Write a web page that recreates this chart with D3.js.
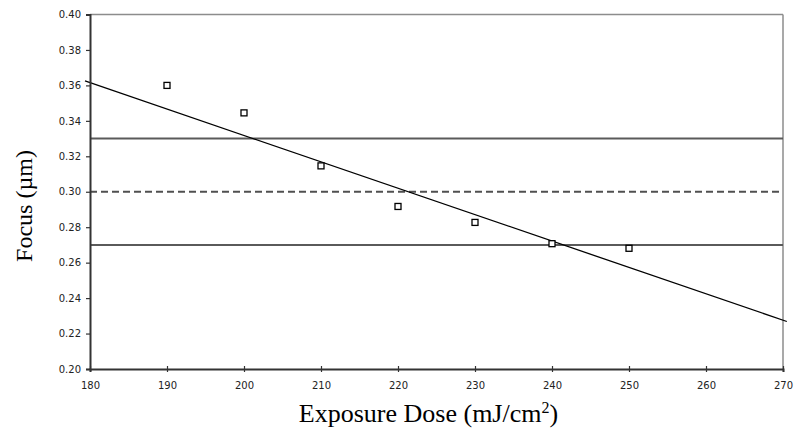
<!DOCTYPE html>
<html>
<head>
<meta charset="utf-8">
<script src="https://cdn.jsdelivr.net/npm/d3@7"></script>
<style>
  html, body { margin: 0; padding: 0; background: #fff; }
  svg { display: block; }
</style>
</head>
<body>
<svg id="chart" width="795" height="428"></svg>
<script>
// Measured focus at each exposure dose
const doses = [190, 200, 210, 220, 230, 240, 250];
const focus = [0.360, 0.3445, 0.3146, 0.2917, 0.2827, 0.2707, 0.2681];

// Linear trendline end points (dose, focus)
const trendDose = [179.35, 270.5];
const trendFocus = [0.3625, 0.2268];

// Target focus and its tolerance band
const targetFocus = 0.30;
const bandFocus = [0.27, 0.33];

// Axis ticks
const xTicks = [180, 190, 200, 210, 220, 230, 240, 250, 260, 270];
const yTicks = [0.20, 0.22, 0.24, 0.26, 0.28, 0.30, 0.32, 0.34, 0.36, 0.38, 0.40];

const svg = d3.select("#chart");
const plot = { left: 90, right: 783, top: 14.5, bottom: 369 };

const x = d3.scaleLinear().domain([180, 270]).range([plot.left, plot.right]);
const y = d3.scaleLinear().domain([0.20, 0.40]).range([plot.bottom, plot.top]);

// Plot frame: light top/right edges
svg.append("line").attr("x1", plot.left).attr("x2", plot.right).attr("y1", plot.top).attr("y2", plot.top)
  .attr("stroke", "#8c8c8c").attr("stroke-width", 1.5);
svg.append("line").attr("x1", plot.right).attr("x2", plot.right).attr("y1", plot.top).attr("y2", plot.bottom)
  .attr("stroke", "#8c8c8c").attr("stroke-width", 1.5);

// Tolerance band limits
svg.selectAll("line.band").data(bandFocus).join("line")
  .attr("class", "band")
  .attr("x1", plot.left).attr("x2", plot.right)
  .attr("y1", d => y(d)).attr("y2", d => y(d))
  .attr("stroke", "#5a5a5a").attr("stroke-width", 2);

// Target focus (dashed)
svg.append("line")
  .attr("x1", plot.left).attr("x2", plot.right)
  .attr("y1", y(targetFocus)).attr("y2", y(targetFocus))
  .attr("stroke", "#505050").attr("stroke-width", 2)
  .attr("stroke-dasharray", "7,4");

// Trendline
const trend = trendDose.map((d, i) => [d, trendFocus[i]]);
svg.append("path")
  .attr("d", d3.line().x(d => x(d[0])).y(d => y(d[1]))(trend))
  .attr("fill", "none").attr("stroke", "#000").attr("stroke-width", 1.3);

// Axes
const tickFont = "'DejaVu Sans', Verdana, sans-serif";
const yAxis = svg.append("g").attr("transform", `translate(${plot.left},0)`)
  .call(d3.axisLeft(y).tickValues(yTicks).tickFormat(d3.format(".2f")).tickSize(4).tickPadding(5));
const xAxis = svg.append("g").attr("transform", `translate(0,${plot.bottom})`)
  .call(d3.axisBottom(x).tickValues(xTicks).tickFormat(d3.format("d")).tickSize(3).tickPadding(10));

[yAxis, xAxis].forEach(g => {
  g.select(".domain").attr("stroke", "#333").attr("stroke-width", 2);
  g.selectAll(".tick line").attr("stroke", "#333").attr("stroke-width", 1.2);
  g.selectAll(".tick text").attr("fill", "#222")
    .style("font-family", tickFont).style("font-size", "10px");
});
// x ticks cross the axis line
xAxis.selectAll(".tick line").attr("y1", -3).attr("y2", 3);

// Data markers
svg.selectAll("rect.pt").data(doses).join("rect")
  .attr("class", "pt")
  .attr("x", (d) => x(d) - 3).attr("y", (d, i) => y(focus[i]) - 3)
  .attr("width", 6).attr("height", 6)
  .attr("fill", "#fff").attr("stroke", "#000").attr("stroke-width", 1.3);

// Axis titles
const titleFont = "'Liberation Serif', 'Times New Roman', serif";
const xt = svg.append("text")
  .attr("x", 428.5).attr("y", 422)
  .attr("text-anchor", "middle")
  .style("font-family", titleFont).style("font-size", "26px").attr("fill", "#000");
xt.append("tspan").text("Exposure Dose (mJ/cm");
xt.append("tspan").text("2").attr("dy", -9).style("font-size", "16px");
xt.append("tspan").text(")").attr("dy", 9);

svg.append("text")
  .attr("transform", "translate(32,206) rotate(-90)")
  .attr("text-anchor", "middle")
  .style("font-family", titleFont).style("font-size", "24px").attr("fill", "#000")
  .text("Focus (µm)");
</script>
</body>
</html>
